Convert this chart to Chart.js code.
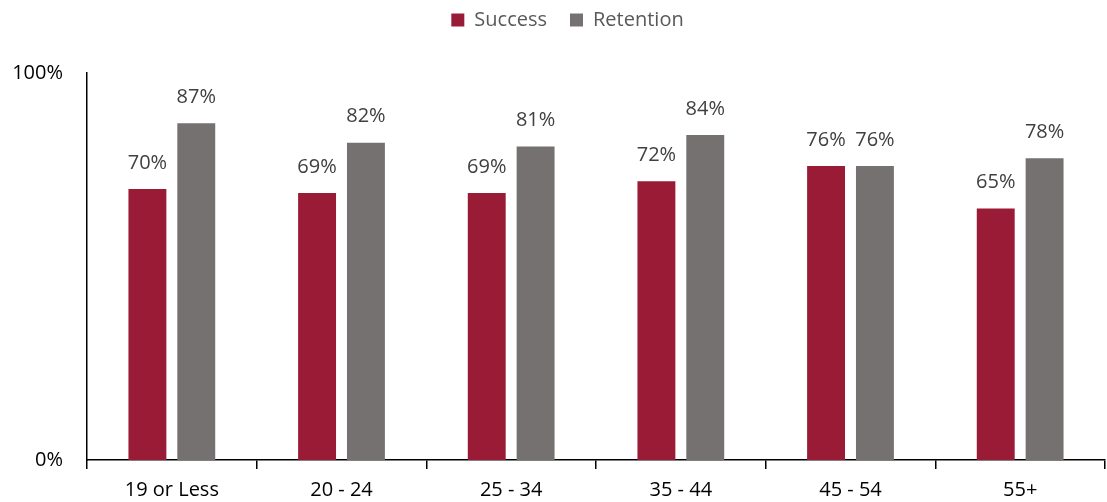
<!DOCTYPE html>
<html>
<head>
<meta charset="utf-8">
<script src="https://cdn.jsdelivr.net/npm/chart.js@4"></script>
<style>
  html, body { margin: 0; padding: 0; background: #fff; }
  #wrap { width: 1107px; height: 502px; }
</style>
</head>
<body>
<div id="wrap"><canvas id="myChart" width="1107" height="502"></canvas></div>
<script>
var categories = ['19 or Less', '20 - 24', '25 - 34', '35 - 44', '45 - 54', '55+'];
var success = [70, 69, 69, 72, 76, 65];
var retention = [87, 82, 81, 84, 76, 78];
var yTicks = [0, 100];

var FONT = '"Open Sans", Lato, sans-serif';

// draw the % labels above each bar
var barLabels = {
  id: 'barLabels',
  afterDatasetsDraw: function(chart) {
    var ctx = chart.ctx;
    ctx.save();
    ctx.font = '20px ' + FONT;
    ctx.fillStyle = '#404040';
    ctx.textAlign = 'center';
    ctx.textBaseline = 'middle';
    chart.data.datasets.forEach(function(ds, i) {
      chart.getDatasetMeta(i).data.forEach(function(bar, j) {
        ctx.fillText(ds.data[j] + '%', bar.x, bar.y - 26);
      });
    });
    ctx.restore();
  }
};

var chart = new Chart(document.getElementById('myChart').getContext('2d'), {
  type: 'bar',
  data: {
    labels: categories,
    datasets: [
      { label: 'Success', data: success, backgroundColor: '#991B36', borderWidth: 0,
        categoryPercentage: 0.576, barPercentage: 0.776 },
      { label: 'Retention', data: retention, backgroundColor: '#767171', borderWidth: 0,
        categoryPercentage: 0.576, barPercentage: 0.776 }
    ]
  },
  options: {
    responsive: false,
    animation: false,
    layout: { padding: { left: 0, right: 2, top: -13, bottom: 0 } },
    plugins: {
      tooltip: { enabled: false },
      legend: {
        position: 'top',
        labels: {
          font: { family: FONT, size: 20 },
          color: '#595959',
          boxWidth: 13,
          boxHeight: 13,
          padding: 23
        }
      }
    },
    scales: {
      x: {
        afterFit: function(axis) { axis.height = 42; },
        grid: { offset: true, drawOnChartArea: false, drawTicks: true, tickLength: 9, color: '#000', lineWidth: 1.5 },
        border: { color: '#000', width: 1.5 },
        ticks: { font: { family: FONT, size: 20 }, color: '#000', padding: 9 }
      },
      y: {
        min: 0, max: 100,
        afterBuildTicks: function(axis) { axis.ticks = yTicks.map(function(v) { return { value: v }; }); },
        afterFit: function(axis) { axis.width = 87; },
        grid: { display: false, drawTicks: false },
        border: { color: '#000', width: 1.5 },
        ticks: { font: { family: FONT, size: 20 }, color: '#000', padding: 24,
          callback: function(v) { return v + '%'; } }
      }
    }
  },
  plugins: [barLabels, {
    id: 'legendSpace',
    beforeInit: function(chart) {
      var origFit = chart.legend.fit;
      chart.legend.fit = function() {
        origFit.bind(chart.legend)();
        this.height = 86;
      };
    },
    // legend sits a bit right of centre in the original
    afterLayout: function(chart) {
      chart.legend.left += 30;
    }
  }]
});
</script>
</body>
</html>
